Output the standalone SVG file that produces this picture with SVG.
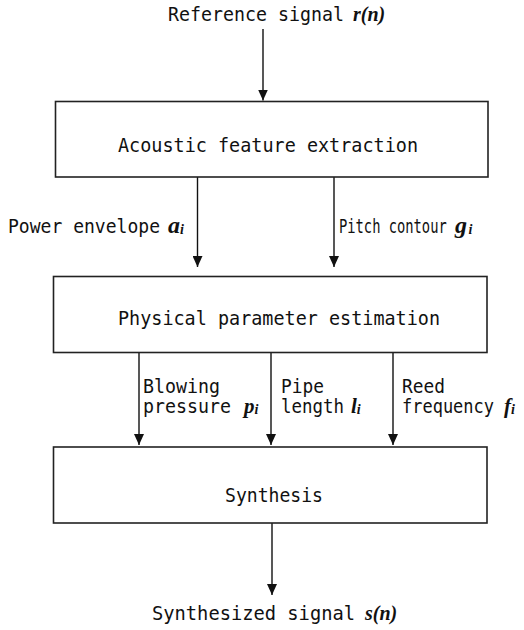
<svg xmlns="http://www.w3.org/2000/svg" width="524" height="630" viewBox="0 0 524 630">
<defs>
<marker id="ah" viewBox="0 0 11 10" refX="11" refY="5" markerWidth="11" markerHeight="10" markerUnits="userSpaceOnUse" orient="auto">
<path d="M0,0 L11,5 L0,10 z" fill="#111"/>
</marker>
<style>
.box{fill:#fff;stroke:#222;stroke-width:1.6}
.t{font-family:"DejaVu Sans Mono","Liberation Mono",monospace;font-size:19px;fill:#111}
.m{font-family:"Liberation Serif","Times New Roman",serif;font-weight:bold;font-style:italic;fill:#111}
.s{font-size:14px}
.c{stroke:#111;stroke-width:1.4;fill:none;marker-end:url(#ah)}
</style>
</defs>
<rect width="524" height="630" fill="#fff"/>
<g id="connectors">
<line class="c" x1="263" y1="29" x2="263" y2="100.5"/>
<line class="c" x1="197.5" y1="177" x2="197.5" y2="267"/>
<line class="c" x1="334" y1="177" x2="334" y2="267"/>
<line class="c" x1="139" y1="352" x2="139" y2="445"/>
<line class="c" x1="271" y1="352" x2="271" y2="445"/>
<line class="c" x1="393" y1="352" x2="393" y2="445"/>
<line class="c" x1="272" y1="523" x2="272" y2="595"/>
</g>
<g id="input">
<text class="t" x="168" y="21" textLength="176" lengthAdjust="spacingAndGlyphs">Reference signal</text>
<text class="m" x="353" y="21" font-size="20">r(n)</text>
</g>
<g id="acoustic">
<rect class="box" x="55.5" y="101.5" width="432.5" height="75.5"/>
<text class="t" x="118" y="152" textLength="300" lengthAdjust="spacingAndGlyphs">Acoustic feature extraction</text>
</g>
<g id="label-power">
<text class="t" x="8" y="233" textLength="152" lengthAdjust="spacingAndGlyphs">Power envelope</text>
<text class="m" x="168" y="233" font-size="24">a<tspan class="s" dy="1">i</tspan></text>
</g>
<g id="label-pitch">
<text class="t" transform="translate(339,233) scale(0.725,1)" x="0" y="0">Pitch contour</text>
<text class="m" x="455" y="233" font-size="24">g<tspan class="s" dx="1.5" dy="1">i</tspan></text>
</g>
<g id="physical">
<rect class="box" x="53.5" y="276.5" width="433.5" height="76"/>
<text class="t" x="118" y="325" textLength="322" lengthAdjust="spacingAndGlyphs">Physical parameter estimation</text>
</g>
<g id="label-blowing">
<text class="t" x="143" y="393" textLength="77" lengthAdjust="spacingAndGlyphs">Blowing</text>
<text class="t" x="143" y="413" textLength="88" lengthAdjust="spacingAndGlyphs">pressure</text>
<text class="m" x="244" y="413" font-size="21">p<tspan class="s" dy="1">i</tspan></text>
</g>
<g id="label-pipe">
<text class="t" x="281" y="393" textLength="43" lengthAdjust="spacingAndGlyphs">Pipe</text>
<text class="t" x="281" y="413" textLength="63" lengthAdjust="spacingAndGlyphs">length</text>
<text class="m" x="351" y="413" font-size="21">l<tspan class="s" dy="1">i</tspan></text>
</g>
<g id="label-reed">
<text class="t" x="402" y="393" textLength="43" lengthAdjust="spacingAndGlyphs">Reed</text>
<text class="t" x="402" y="413" textLength="92" lengthAdjust="spacingAndGlyphs">frequency</text>
<text class="m" x="504" y="413" font-size="21">f<tspan class="s" dy="1">i</tspan></text>
</g>
<g id="synthesis">
<rect class="box" x="53.5" y="447" width="433.5" height="76"/>
<text class="t" x="225" y="502" textLength="98" lengthAdjust="spacingAndGlyphs">Synthesis</text>
</g>
<g id="output">
<text class="t" x="152" y="620" textLength="203" lengthAdjust="spacingAndGlyphs">Synthesized signal</text>
<text class="m" x="365" y="620" font-size="20">s(n)</text>
</g>
</svg>
